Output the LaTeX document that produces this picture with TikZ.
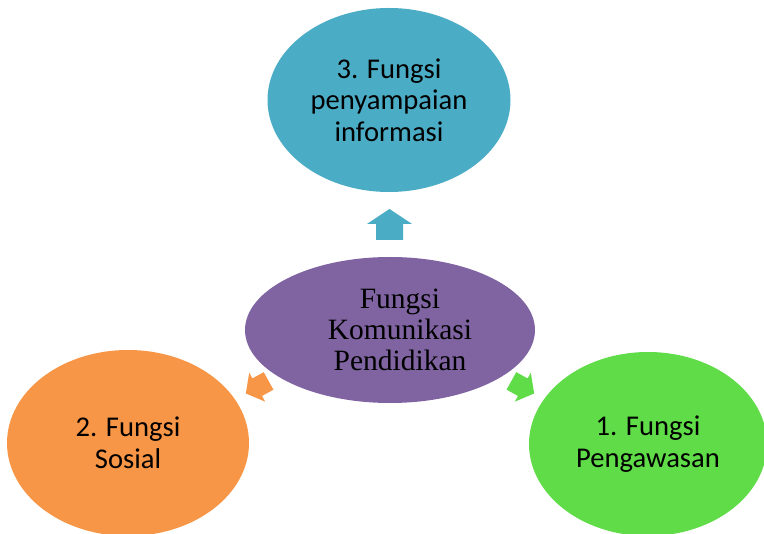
\documentclass[tikz,border=0pt]{standalone}
\usepackage{fontspec}
\setmainfont{Carlito}
\newfontfamily\centerfont{Liberation Serif}
\usetikzlibrary{shapes.geometric}

\definecolor{tealfill}{RGB}{75,172,198}
\definecolor{purplefill}{RGB}{128,100,162}
\definecolor{orangefill}{RGB}{247,150,70}
\definecolor{greenfill}{RGB}{95,220,72}

\tikzset{
  bubble/.style={ellipse, inner sep=0pt, align=center, text=black,
    font=\fontsize{28.6}{31.5}\selectfont},
  hubbubble/.style={ellipse, inner sep=0pt},
  hublabel/.style={inner sep=0pt, align=center, text=black,
    font=\centerfont\fontsize{29.5}{31}\selectfont}
}

% block arrow with its tip along +x:
% #1 head width, #2 head length, #3 shaft width, #4 shaft length
\newcommand{\blockarrowpath}[4]{%
  (0,-#1/2) -- (#2,0) -- (0,#1/2) -- (0,#3/2) -- (-#4,#3/2) -- (-#4,-#3/2) -- (0,-#3/2) -- cycle}

\begin{document}
\begin{tikzpicture}[x=1pt,y=-1pt]
  \useasboundingbox (0,0) rectangle (764,534);
  \clip (0,0) rectangle (764,534);

  % outer bubbles
  \node[bubble, fill=tealfill, minimum width=243, minimum height=184] (info) at (389,100)
    {3. Fungsi\\penyampaian\\informasi};
  \node[bubble, fill=orangefill, minimum width=242, minimum height=186] (sosial) at (128,443)
    {2. Fungsi\\Sosial};
  \node[bubble, fill=greenfill, minimum width=238, minimum height=184] (awas) at (648,444)
    {1. Fungsi\\Pengawasan};

  % central bubble, its label set a little right of centre
  \node[hubbubble, fill=purplefill, minimum width=290, minimum height=146] (hub) at (390,330) {};
  \node[hublabel] (hubtext) at (400,330) {Fungsi\\Komunikasi\\Pendidikan};

  % block arrows pointing from the hub towards each bubble
  \fill[tealfill, shift={(389.5,224)}, rotate=90] \blockarrowpath{45}{15}{27}{16};
  \fill[orangefill, shift={(257.2,387.2)}, rotate=208.9] \blockarrowpath{33}{13}{20}{13};
  \fill[greenfill, shift={(522.8,387.2)}, rotate=331.1] \blockarrowpath{33}{13}{20}{13};
\end{tikzpicture}
\end{document}
